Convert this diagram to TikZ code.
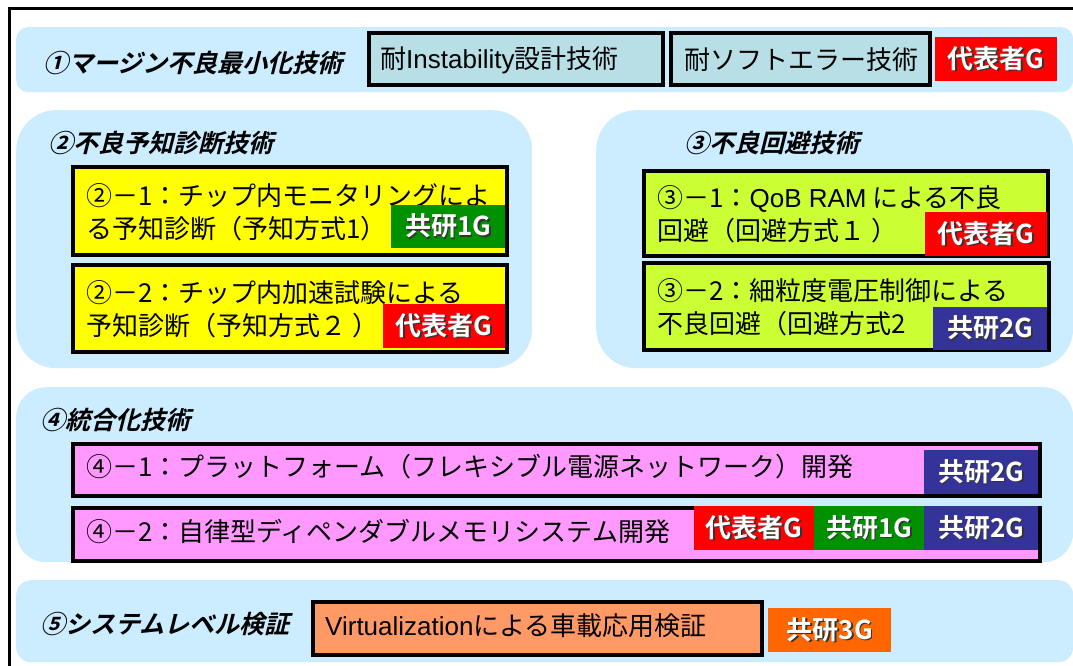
\documentclass[tikz,border=0pt]{standalone}
\usepackage{fontspec}
\setmainfont{Noto Sans CJK JP}
\newfontfamily\jpbold{Noto Sans CJK JP Bold}
\newfontfamily\jptitle{Noto Sans CJK JP Bold}[FakeSlant=0.25]
\newfontfamily\lat{Liberation Sans}
\definecolor{bandblue}{RGB}{204,236,255}
\definecolor{tealbox}{RGB}{183,223,229}
\definecolor{yelbox}{RGB}{255,255,0}
\definecolor{limebox}{RGB}{204,255,51}
\definecolor{pinkbox}{RGB}{255,153,255}
\definecolor{orgbox}{RGB}{255,153,102}
\definecolor{tagred}{RGB}{255,0,0}
\definecolor{taggreen}{RGB}{0,145,0}
\definecolor{tagnavy}{RGB}{51,51,153}
\definecolor{tagorange}{RGB}{255,102,0}
\newcommand\shd[1]{\makebox[0pt][l]{\kern1.6pt\raisebox{-1.6pt}{\textcolor{black!80}{#1}}}#1}
\tikzset{
  bandbox/.style={fill=bandblue, anchor=north west, inner sep=0pt},
  framebox/.style={draw=black, line width=4pt, anchor=north west, inner sep=0pt},
  tagbox/.style={anchor=north west, inner sep=0pt, text=white, font=\jpbold\fontsize{26}{26}\selectfont},
  body/.style={anchor=west, inner sep=0pt, align=left, font=\fontsize{26}{33}\selectfont},
  ttl/.style={anchor=west, inner sep=0pt, font=\jptitle\fontsize{25}{25}\selectfont},
}
% band: name, x1,y1,x2,y2, radius
\newcommand\bandnode[6]{\node[bandbox, rounded corners=#6, minimum width={#4-#2}, minimum height={#5-#3}] (#1) at (#2,#3) {};}
% framed box: name, x1,y1,x2,y2, fill
\newcommand\bxnode[6]{\node[framebox, fill=#6, minimum width={#4-#2-4}, minimum height={#5-#3-4}] (#1) at ({#2+2},{#3+2}) {};}
% tag: name, x1,y1,x2,y2, fill, text
\newcommand\tgnode[7]{\node[tagbox, fill=#6, minimum width={#4-#2}, minimum height={#5-#3}] (#1) at (#2,#3) {\shd{#7}};}
\begin{document}
\begin{tikzpicture}[x=1pt,y=-1pt]
\useasboundingbox (0,0) rectangle (1073,666);
\clip (0,0) rectangle (1073,666);
\fill[white] (0,0) rectangle (1073,666);
% outer frame
\draw[line width=3pt] (9,700) -- (9,9) -- (1100,9);
% bands
\bandnode{b1}{16}{27}{1073}{92}{12pt}
\bandnode{b2}{16}{110}{532}{368}{40pt}
\bandnode{b3}{596}{110}{1073}{368}{40pt}
\bandnode{b4}{16}{387}{1073}{562}{30pt}
\bandnode{b5}{16}{580}{1073}{662}{15pt}
% titles
\node[ttl] (T1) at (43,63) {①マージン不良最小化技術};
\node[ttl] (T2) at (48,143) {②不良予知診断技術};
\node[ttl] (T3) at (684,143) {③不良回避技術};
\node[ttl] (T4) at (40,420) {④統合化技術};
\node[ttl] (T5) at (40,624) {⑤システムレベル検証};
% row 1
\bxnode{inst}{365}{29}{663}{85}{tealbox}
\bxnode{soft}{667}{29}{930}{85}{tealbox}
\node[body] (instT) at (380,60) {耐{\lat Instability}設計技術};
\node[body] (softT) at (684,60) {耐ソフトエラー技術};
\tgnode{t1}{935}{37}{1057}{81}{tagred}{代表者G}
% band 2
\bxnode{y21}{69}{163}{507}{255}{yelbox}
\bxnode{y22}{69}{261}{507}{352}{yelbox}
\node[body] (y21T) at (86,212) {②－1：チップ内モニタリングによ\\る予知診断（予知方式1）};
\node[body] (y22T) at (86,309) {②－2：チップ内加速試験による\\予知診断（予知方式２ ）};
\tgnode{t21}{391}{205}{505}{248}{taggreen}{共研1G}
\tgnode{t22}{383}{304}{505}{348}{tagred}{代表者G}
% band 3
\bxnode{g31}{640}{167}{1048}{256}{limebox}
\bxnode{g32}{640}{259}{1049}{350}{limebox}
\node[body] (g31T) at (657,214) {③－1：{\lat QoB RAM} による不良\\回避（回避方式１ ）};
\node[body] (g32T) at (657,307) {③－2：細粒度電圧制御による\\不良回避（回避方式2};
\tgnode{t31}{925}{212}{1047}{256}{tagred}{代表者G}
\tgnode{t32}{933}{307}{1047}{350}{tagnavy}{共研2G}
% band 4
\bxnode{p41}{69}{440}{1040}{496}{pinkbox}
\bxnode{p42}{69}{504}{1040}{561}{pinkbox}
\node[body] (p41T) at (86,467) {④－1：プラットフォーム（フレキシブル電源ネットワーク）開発};
\node[body] (p42T) at (86,531) {④－2：自律型ディペンダブルメモリシステム開発};
\tgnode{t41}{924}{450}{1038}{494}{tagnavy}{共研2G}
\tgnode{t42a}{694}{506}{814}{550}{tagred}{代表者G}
\tgnode{t42b}{814}{506}{924}{550}{taggreen}{共研1G}
\tgnode{t42c}{924}{506}{1038}{550}{tagnavy}{共研2G}
% band 5
\bxnode{virt}{309}{598}{762}{655}{orgbox}
\node[body] (virtT) at (325,626) {{\lat Virtualization}による車載応用検証};
\tgnode{t5}{768}{608}{891}{652}{tagorange}{共研3G}
\end{tikzpicture}
\end{document}
